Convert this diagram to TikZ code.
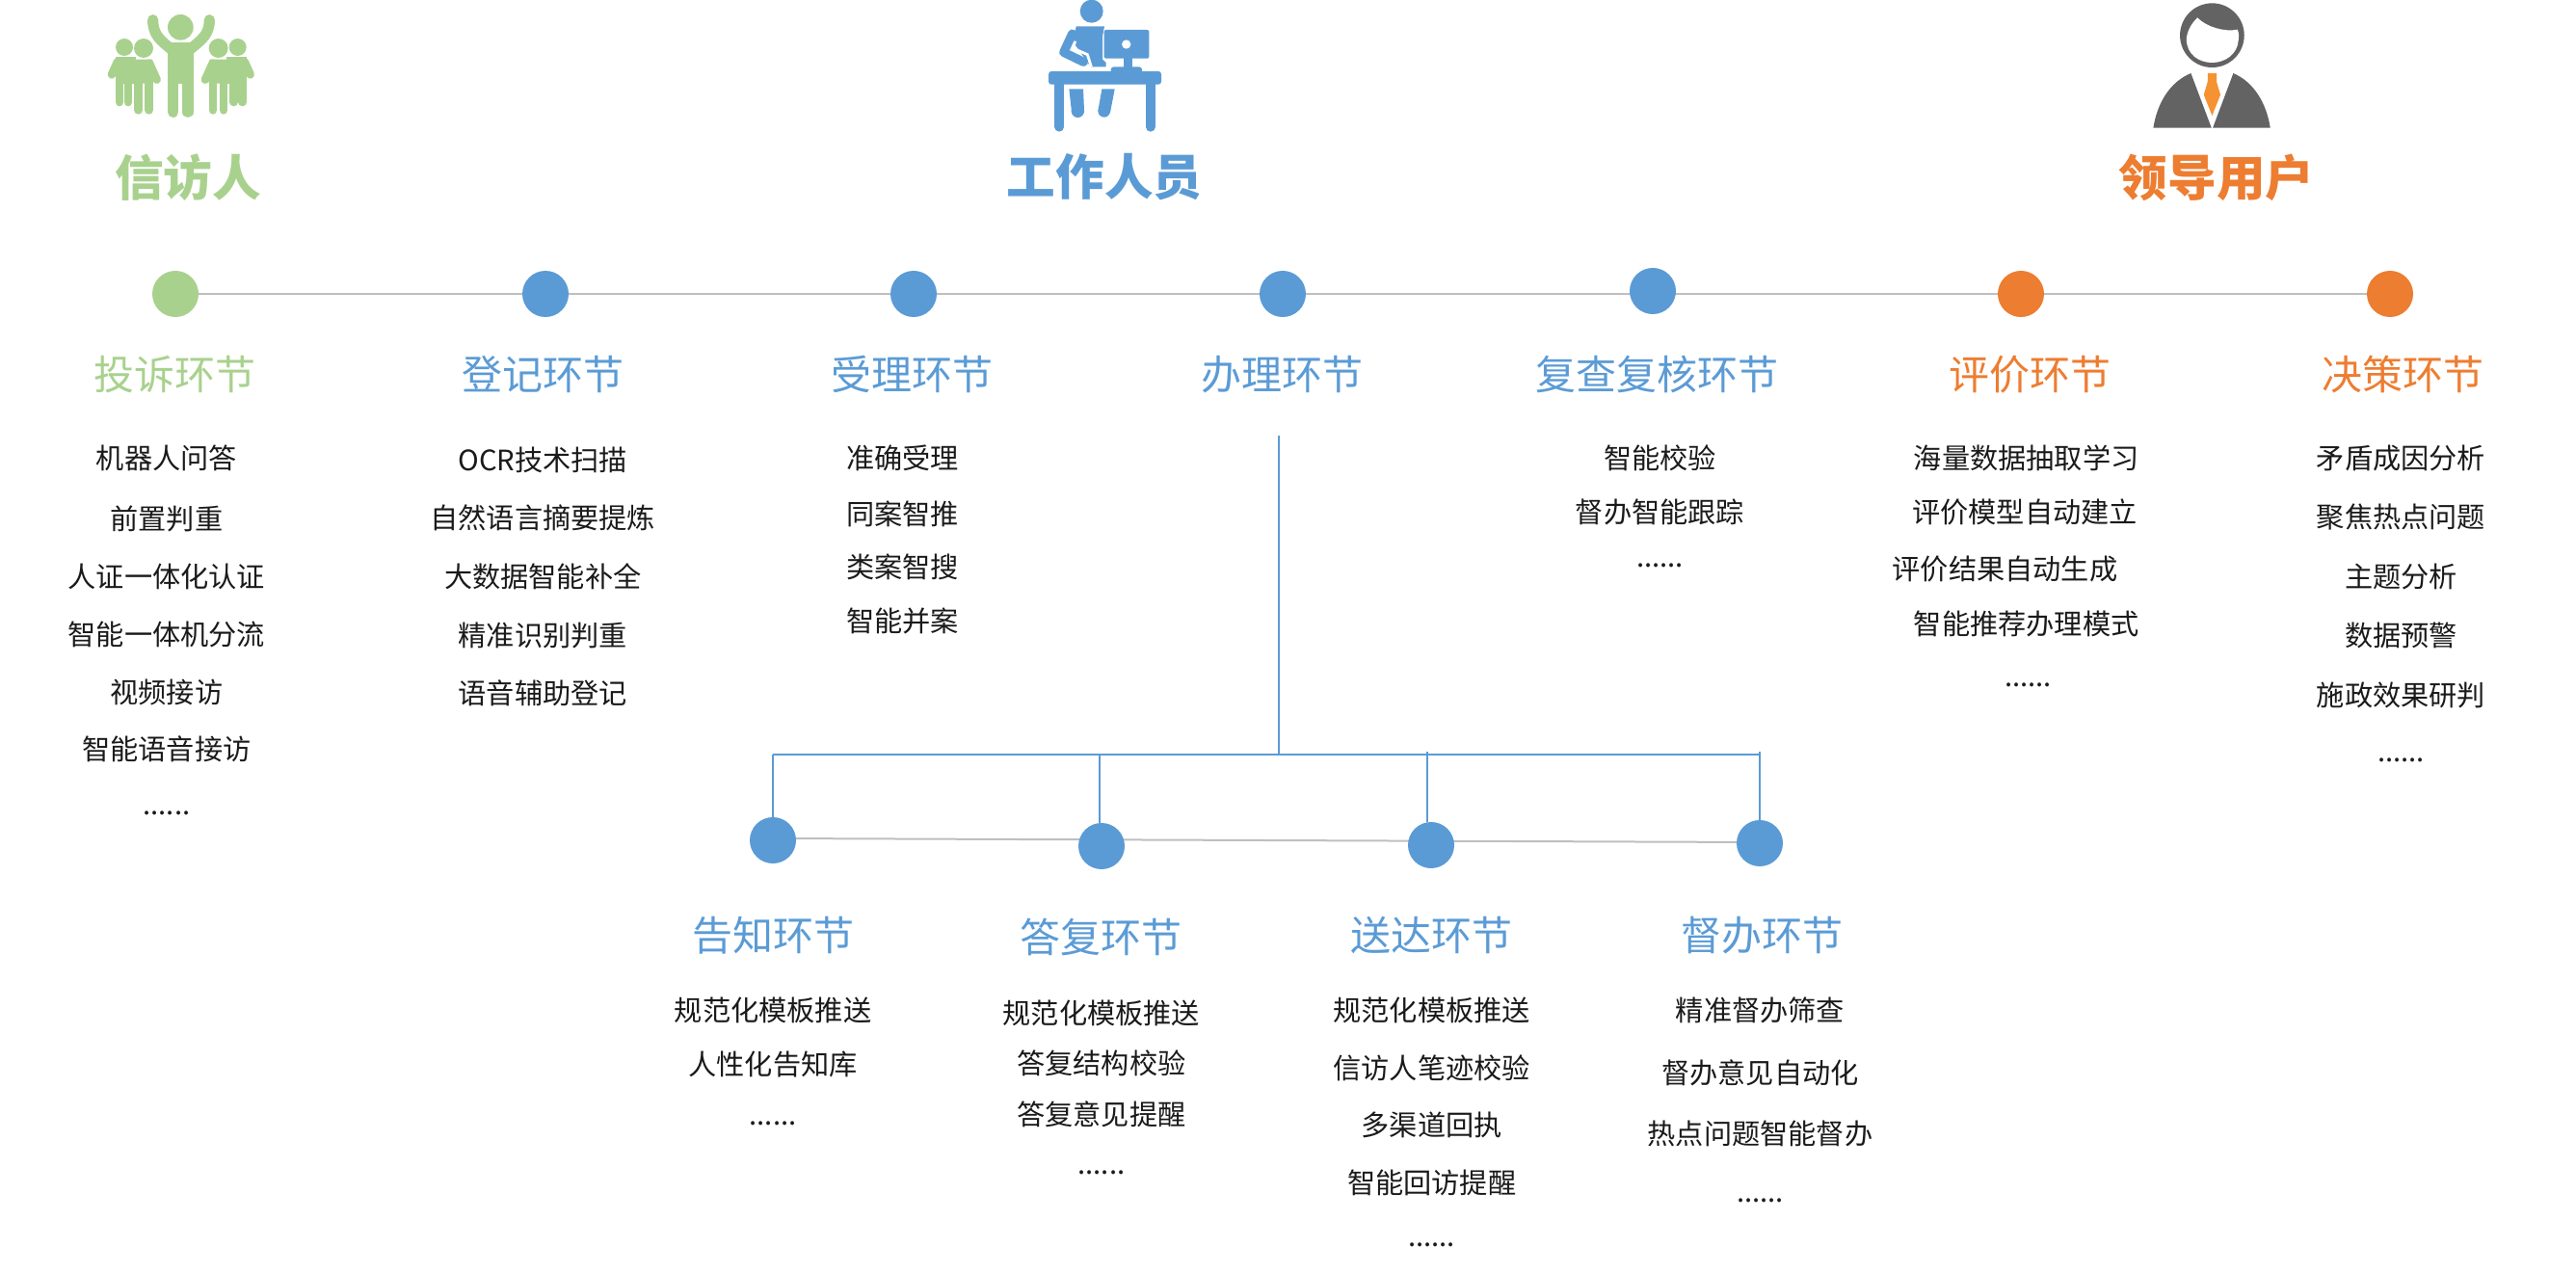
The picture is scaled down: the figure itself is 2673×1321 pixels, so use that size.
\documentclass[tikz,border=0pt]{standalone}
\usepackage{fontspec}
\usetikzlibrary{backgrounds}
\setmainfont{Noto Sans CJK SC}
\definecolor{cgreen}{HTML}{A9D18E}
\definecolor{cblue}{HTML}{5B9BD5}
\definecolor{corange}{HTML}{ED7D31}
\definecolor{cgrey}{HTML}{636363}
\definecolor{ctie}{HTML}{F59231}
\definecolor{cline}{HTML}{BFBFBF}
\definecolor{ctext}{HTML}{1A1A1A}
\newcommand{\ellipdots}{......}
\tikzset{
  titletext/.style={inner sep=0pt,font=\fontsize{25.3}{29}\selectfont\bfseries},
  headtext/.style={inner sep=0pt,font=\fontsize{21}{25}\selectfont},
  itemtext/.style={inner sep=0pt,text=ctext,font=\fontsize{14.6}{17}\selectfont},
  dotnode/.style={circle,inner sep=0pt,minimum size=24pt},
  tl/.style={cline,line width=1pt},
  bl/.style={cblue,line width=0.8pt},
  iconscope/.style={x=0.16667pt,y=-0.16667pt},
}
\newcommand{\pairfig}{%
  \fill (207,147) circle[radius=27];
  \fill (267,150) circle[radius=30];
  \fill (180,178) -- (242,178) -- (242,260) -- (180,260) -- cycle;
  \fill (238,185) -- (295,185) -- (297,260) -- (238,260) -- cycle;
  \draw (192,200) -- (192,318);
  \draw (219,200) -- (219,318);
  \draw (251,250) -- (251,343);
  \draw (284,250) -- (284,343);
  \draw (186,192) -- (168,232);
  \draw (285,197) -- (308,248);
}
\begin{document}
\begin{tikzpicture}[x=0.5pt,y=-0.5pt]
\useasboundingbox (0,0) rectangle (2673,1321);
% --- icons ---
\begin{scope}[iconscope,shift={(180,0)},cgreen,line cap=round,line width=4.3pt]
  \fill[cgreen] (382,85) circle[radius=40];
  \fill[cgreen] (342,133) -- (422,133) -- (422,260) -- (342,260) -- cycle;
  \draw[cgreen,line width=5.6pt] (359,250) -- (359,349);
  \draw[cgreen,line width=5.6pt] (405,250) -- (405,349);
  \draw[cgreen,line width=5.6pt] (296,62) .. controls (296,110) and (320,125) .. (355,155);
  \draw[cgreen,line width=5.6pt] (472,62) .. controls (472,110) and (445,125) .. (410,155);
  \begin{scope}[cgreen]
    \pairfig
  \end{scope}
  \begin{scope}[xscale=-1,shift={(-767,0)}]
    \pairfig
  \end{scope}
\end{scope}
\begin{scope}[iconscope,shift={(3000,0)},line cap=round]
  \fill[cblue] (398,35) circle[radius=36];
  \fill[cblue] (350,82) -- (438,82) -- (432,112) -- (432,185) -- (443,195) -- (443,208) -- (395,208) -- (340,130) -- cycle;
  \draw[white,line width=1.4pt,line cap=butt] (347,128) -- (340,150) -- (385,170) -- (397,208);
  \draw[cblue,line width=4.6pt,line join=round] (338,105) -- (311,163) -- (373,193);
  \fill[cblue,rounded corners=1pt] (437,93) rectangle (577,182);
  \fill[white] (506,138) circle[radius=14];
  \fill[cblue] (497,180) rectangle (525,212);
  \fill[cblue,rounded corners=1.5pt] (458,208) rectangle (555,228);
  \fill[cblue,rounded corners=1.5pt] (264,222) rectangle (615,263);
  \draw[cblue,line width=5pt] (298,260) -- (298,395);
  \draw[cblue,line width=5pt] (581,260) -- (581,395);
  \fill[cblue] (328,277) -- (372,277) -- (375,347) -- (336,350) -- cycle;
  \fill[cblue] (355,346) circle[radius=20];
  \fill[cblue] (430,277) -- (470,277) -- (456,350) -- (418,345) -- cycle;
  \fill[cblue] (437,346) circle[radius=19];
\end{scope}
\begin{scope}[iconscope,shift={(6540,0)}]
  \fill[cgrey] (346,110) circle[radius=100];
  \fill[white] (266,120) .. controls (270,90) and (285,70) .. (300,55) .. controls (330,85) and (385,100) .. (425,92) .. controls (430,105) and (430,115) .. (428,125) .. controls (425,170) and (385,195) .. (346,195) .. controls (305,195) and (266,170) .. (266,120) -- cycle;
  \fill[cgrey] (280,228) -- (344,398) -- (163,398) .. controls (175,320) and (215,255) .. (280,228) -- cycle;
  \fill[cgrey] (412,228) -- (348,398) -- (527,398) .. controls (515,320) and (475,255) .. (412,228) -- cycle;
  \fill[ctie] (332,228) -- (360,228) -- (360,255) -- (372,295) -- (346,360) -- (320,295) -- (332,255) -- cycle;
\end{scope}
% --- role titles ---
\node[titletext,text=cgreen] (t1) at (195,184) {信访人};
\node[titletext,text=cblue] (t2) at (1146,184) {工作人员};
\node[titletext,text=corange] (t3) at (2300,184) {领导用户};
% --- main timeline ---
\node[dotnode,fill=cgreen] (n1) at (182,305) {};
\node[dotnode,fill=cblue] (n2) at (566,305) {};
\node[dotnode,fill=cblue] (n3) at (948,305) {};
\node[dotnode,fill=cblue] (n4) at (1331,305) {};
\node[dotnode,fill=cblue] (n5) at (1715,302) {};
\node[dotnode,fill=corange] (n6) at (2097,305) {};
\node[dotnode,fill=corange] (n7) at (2480,305) {};
% --- lower timeline ---
\node[dotnode,fill=cblue] (l1) at (802,872) {};
\node[dotnode,fill=cblue] (l2) at (1143,878) {};
\node[dotnode,fill=cblue] (l3) at (1485,877) {};
\node[dotnode,fill=cblue] (l4) at (1826,875) {};
\begin{pgfonlayer}{background}
\draw[tl] (n1) -- (n7);
\draw[tl] ([yshift=1pt]l1.center) -- ([yshift=0.5pt]l4.center);
\end{pgfonlayer}
% --- tree ---
\coordinate (trunk) at (1327,452);
\coordinate (busl) at (802,783);
\coordinate (busr) at (1826,783);
\coordinate (b2) at (1141,783);
\coordinate (b3) at (1481,780);
\coordinate (b4) at (1826,780);
\draw[bl] (trunk) -- (trunk |- busl);
\draw[bl,line width=1.1pt] (busl) -- (busr);
\draw[bl] (busl) -- (l1);
\draw[bl] (b2) -- (b2 |- l2.north);
\draw[bl] (b3) -- (b3 |- l3.north);
\draw[bl] (b4) -- (l4);
% --- texts (coordinates in the 1568-wide scale) ---
\begin{scope}[x=0.85235pt,y=-0.85235pt,xshift=0.4pt]
\foreach \px/\py/\c/\s [count=\n] in {
 106/228/cgreen/投诉环节, 330/228/cblue/登记环节, 555/228/cblue/受理环节, 780/228/cblue/办理环节,
 1008/228/cblue/复查复核环节, 1235/228/corange/评价环节, 1462/228/corange/决策环节,
 470/569.5/cblue/告知环节, 670/570.5/cblue/答复环节, 871/569.5/cblue/送达环节, 1072/569.5/cblue/督办环节}
  \node[headtext,text=\c] (h\n) at (\px,\py) {\s};
\foreach \px/\py/\s [count=\n] in {
 101/279/机器人问答, 101/316/前置判重, 101/351/人证一体化认证, 101/386/智能一体机分流, 101/421.5/视频接访, 101/456/智能语音接访, 101/495/\ellipdots,
 330/280/OCR技术扫描, 330/315/自然语言摘要提炼, 330/351/大数据智能补全, 330/387/精准识别判重, 330/422/语音辅助登记,
 549/279/准确受理, 549/313/同案智推, 549/345/类案智搜, 549/378/智能并案,
 1010/279/智能校验, 1010/312/督办智能跟踪, 1010/344/\ellipdots,
 1233/279/海量数据抽取学习, 1232/312/评价模型自动建立, 1220/346.5/评价结果自动生成, 1233/380/智能推荐办理模式, 1234/417/\ellipdots,
 1461/279/矛盾成因分析, 1461/314.5/聚焦热点问题, 1461/351/主题分析, 1461/387/数据预警, 1461/423/施政效果研判, 1461/463/\ellipdots,
 470/615/规范化模板推送, 470/648/人性化告知库, 470/684/\ellipdots,
 670/617/规范化模板推送, 670/647/答复结构校验, 670/678.5/答复意见提醒, 670/714/\ellipdots,
 871/615/规范化模板推送, 871/650/信访人笔迹校验, 871/685/多渠道回执, 871/720/智能回访提醒, 871/758/\ellipdots,
 1071/615/精准督办筛查, 1071/653/督办意见自动化, 1071/690/热点问题智能督办, 1071/731/\ellipdots}
  \node[itemtext] (i\n) at (\px,\py) {\s};
\end{scope}
\end{tikzpicture}
\end{document}
